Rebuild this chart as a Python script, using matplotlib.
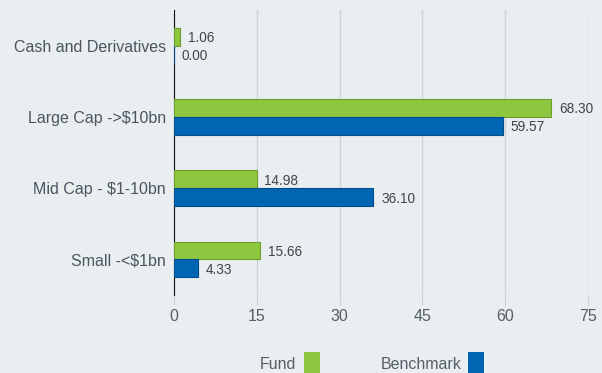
import matplotlib.pyplot as plt
import numpy as np

categories = ['Small -<$1bn', 'Mid Cap - $1-10bn', 'Large Cap ->$10bn', 'Cash and Derivatives']
fund = [15.66, 14.98, 68.30, 1.06]
benchmark = [4.33, 36.10, 59.57, 0.00]
xticks = [0, 15, 30, 45, 60, 75]

bg = '#e9eef1'
green = '#8dc63f'
blue = '#0066b3'
plt.rcParams['font.family'] = ['Liberation Sans', 'DejaVu Sans']

fig = plt.figure(figsize=(6.02, 3.73), dpi=100, facecolor=bg)
ax = fig.add_axes([0.289, 0.209, 0.688, 0.764], facecolor=bg)

y = np.arange(len(categories))
h = 0.25
ax.barh(y + h / 2, fund, height=h, color=green, edgecolor='#6f9e2e', linewidth=0.8, zorder=3)
ax.barh(y - h / 2, benchmark, height=h, color=blue, edgecolor='#004f8c', linewidth=0.8, zorder=3)

for yi, f, b in zip(y, fund, benchmark):
    ax.text(f + 1.4, yi + h / 2 - 0.02, f'{f:.2f}', va='center', ha='left', fontsize=9.8, color='#444444')
    ax.text(b + 1.4, yi - h / 2 - 0.02, f'{b:.2f}', va='center', ha='left', fontsize=9.8, color='#444444')

ax.set_xlim(0, 75)
ax.set_ylim(-0.5, 3.5)
ax.set_xticks(xticks)
ax.set_yticks(y)
ax.set_yticklabels(categories)
ax.xaxis.grid(True, color='#cfd3d6', linewidth=1, zorder=0)
ax.tick_params(axis='x', length=7.5, color='#cfd3d6', labelsize=11.5, labelcolor='#555e66', pad=2.5)
ax.tick_params(axis='y', length=0, labelsize=11.5, labelcolor='#4a5560', pad=6)
for s in ['top', 'right', 'bottom']:
    ax.spines[s].set_visible(False)
ax.spines['left'].set_color('#111111')
ax.spines['left'].set_zorder(2)

# legend text sits left of each swatch
fig.text(0.492, 0.022, 'Fund', ha='right', va='center', fontsize=11.5, color='#555e66')
fig.text(0.766, 0.022, 'Benchmark', ha='right', va='center', fontsize=11.5, color='#555e66')
fig.patches.append(plt.Rectangle((0.505, -0.02), 0.027, 0.076, transform=fig.transFigure,
                                 facecolor=green, edgecolor='none'))
fig.patches.append(plt.Rectangle((0.777, -0.02), 0.027, 0.076, transform=fig.transFigure,
                                 facecolor=blue, edgecolor='none'))

fig.savefig('out.png', dpi=100, facecolor=bg)
